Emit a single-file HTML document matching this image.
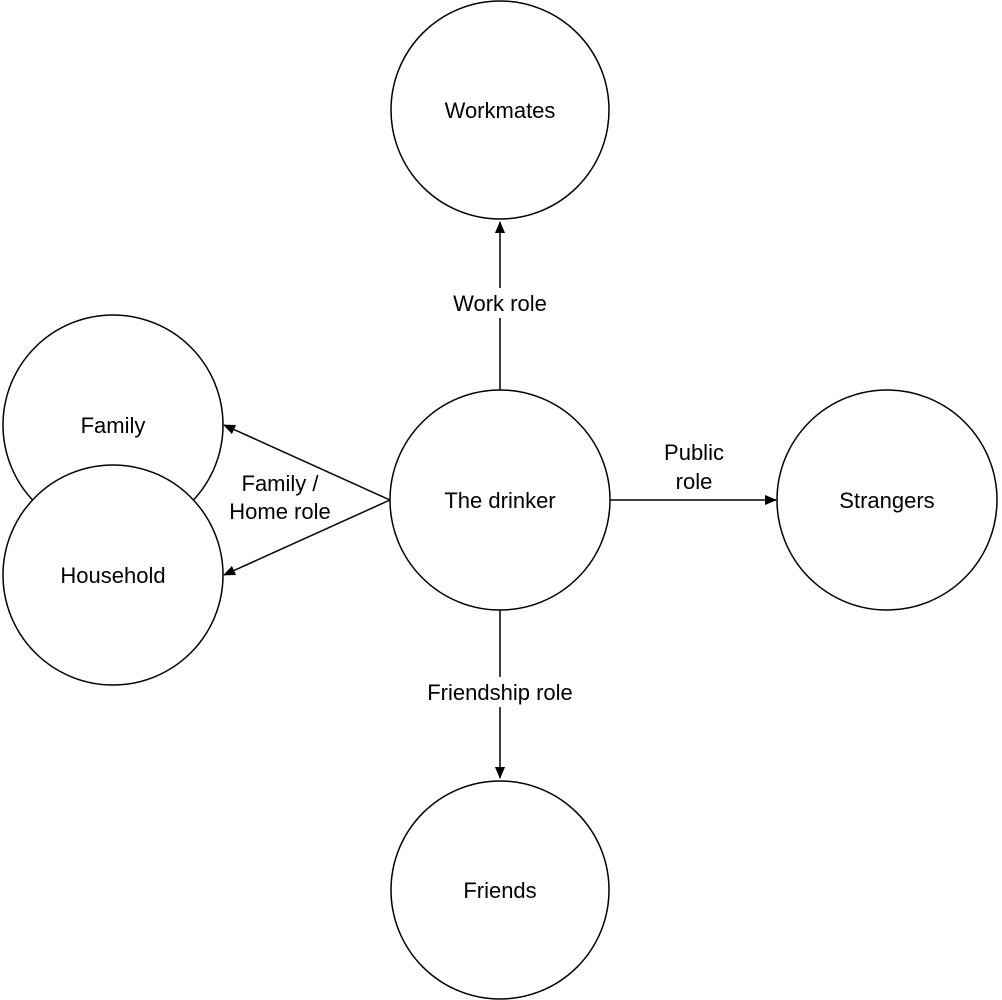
<!DOCTYPE html>
<html><head><meta charset="utf-8"><style>
html,body{margin:0;padding:0;background:#fff;}
svg{display:block;}
text{font-family:"Liberation Sans",Arial,sans-serif;font-size:22px;fill:#000;}
</style></head><body>
<svg width="1002" height="1000" viewBox="0 0 1002 1000" xmlns="http://www.w3.org/2000/svg">
<defs>
<marker id="a" markerWidth="12" markerHeight="10" refX="11" refY="5" orient="auto" markerUnits="userSpaceOnUse">
<path d="M0,0 L12,5 L0,10 Z" fill="#000"/>
</marker>
</defs>
<g fill="#fff" stroke="#000" stroke-width="1.5">
<circle cx="500" cy="110" r="109"/>
<circle cx="500" cy="500" r="110"/>
<circle cx="887" cy="500" r="110"/>
<circle cx="500" cy="890" r="109"/>
<circle cx="113" cy="425" r="110"/>
<circle cx="113" cy="575" r="110"/>
</g>
<g stroke="#000" stroke-width="1.5" fill="none">
<line x1="500" y1="390" x2="500" y2="222" marker-end="url(#a)"/>
<line x1="610" y1="500" x2="776" y2="500" marker-end="url(#a)"/>
<line x1="500" y1="610" x2="500" y2="778" marker-end="url(#a)"/>
<line x1="390" y1="500" x2="224" y2="425" marker-end="url(#a)"/>
<line x1="390" y1="500" x2="224" y2="575" marker-end="url(#a)"/>
</g>
<rect x="442" y="288" width="116" height="30" fill="#fff"/>
<rect x="412" y="677" width="176" height="30" fill="#fff"/>
<g text-anchor="middle">
<text x="500" y="118">Workmates</text>
<text x="500" y="508">The drinker</text>
<text x="887" y="508">Strangers</text>
<text x="500" y="898">Friends</text>
<text x="113" y="433">Family</text>
<text x="113" y="583">Household</text>
<text x="500" y="311">Work role</text>
<text x="500" y="700">Friendship role</text>
<text x="694" y="460">Public</text>
<text x="694" y="489">role</text>
<text x="280" y="491">Family /</text>
<text x="280" y="519">Home role</text>
</g>
</svg>
</body></html>
